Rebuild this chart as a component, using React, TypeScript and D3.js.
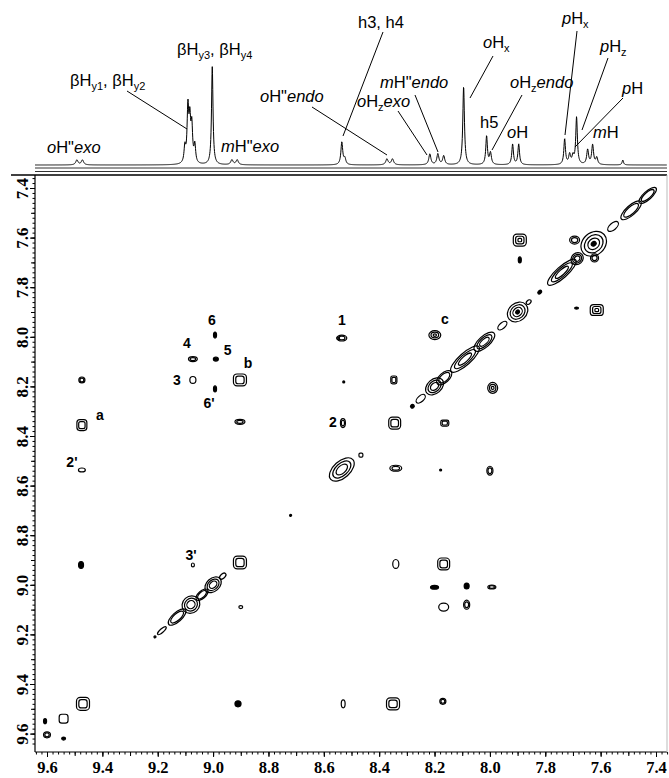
import React, { useEffect, useRef } from 'react';
import * as d3 from 'd3';

// 1D proton trace drawn on top: line positions (ppm), relative heights, half-widths (ppm)
const linePpm = [9.492, 9.472, 9.102, 9.091, 9.084, 9.077, 9.066, 9.003, 8.932, 8.913, 8.535, 8.524, 8.372, 8.352, 8.217, 8.188, 8.167, 8.095, 8.012, 7.998, 7.918, 7.896, 7.73, 7.712, 7.7, 7.687, 7.647, 7.629, 7.614, 7.52];
const lineHeight = [5, 5, 16, 55, 40, 36, 18, 100, 5, 5, 23, 6, 6, 6, 11, 11, 9, 80, 29, 12, 21, 21, 26, 10, 8, 48, 15, 20, 7, 5];
const lineHalfWidth = [0.005, 0.005, 0.0035, 0.0035, 0.0035, 0.0035, 0.0035, 0.0032, 0.005, 0.005, 0.004, 0.004, 0.005, 0.005, 0.0045, 0.0045, 0.0045, 0.0035, 0.0035, 0.004, 0.0035, 0.0035, 0.0035, 0.004, 0.004, 0.0035, 0.004, 0.004, 0.004, 0.003];

// COSY cross peaks: F2 (ppm), F1 (ppm), widths (ppm), contour levels, shape (s square, o oval, d filled)
const crossF2 = [7.892, 7.892, 7.694, 7.622, 7.614, 7.687, 7.99, 8.199, 8.535, 8.528, 8.347, 8.531, 8.344, 8.163, 8.466, 8.993, 9.073, 8.99, 8.903, 9.073, 8.993, 8.903, 9.474, 9.474, 9.474, 8.34, 8.178, 8.0, 9.477, 9.073, 8.9, 8.34, 8.167, 8.2, 8.084, 7.993, 8.167, 8.084, 8.91, 8.53, 8.35, 8.17, 9.607, 9.54, 8.903, 9.47, 9.54, 9.6, 8.548];
const crossF1 = [7.61, 7.69, 7.61, 7.682, 7.892, 7.884, 8.206, 7.993, 8.005, 8.182, 8.174, 8.348, 8.348, 8.348, 8.477, 7.993, 8.09, 8.09, 8.174, 8.174, 8.21, 8.343, 8.174, 8.356, 8.537, 8.53, 8.537, 8.54, 8.92, 8.92, 9.09, 8.916, 8.916, 9.01, 9.005, 9.009, 9.09, 9.08, 9.48, 9.48, 9.48, 9.47, 9.55, 9.62, 8.91, 9.48, 9.54, 9.605, 8.005];
const crossW2 = [0.047, 0.011, 0.036, 0.029, 0.047, 0.014, 0.036, 0.043, 0.036, 0.007, 0.022, 0.018, 0.043, 0.029, 0.014, 0.011, 0.032, 0.018, 0.047, 0.022, 0.011, 0.036, 0.022, 0.036, 0.025, 0.043, 0.007, 0.022, 0.018, 0.011, 0.014, 0.022, 0.043, 0.029, 0.018, 0.029, 0.036, 0.022, 0.022, 0.014, 0.047, 0.022, 0.011, 0.014, 0.047, 0.047, 0.032, 0.025, 0.01];
const crossW1 = [0.048, 0.024, 0.032, 0.032, 0.044, 0.008, 0.044, 0.036, 0.024, 0.008, 0.032, 0.036, 0.048, 0.024, 0.016, 0.024, 0.02, 0.016, 0.048, 0.028, 0.024, 0.02, 0.024, 0.044, 0.016, 0.024, 0.008, 0.036, 0.028, 0.016, 0.012, 0.036, 0.048, 0.016, 0.024, 0.016, 0.032, 0.036, 0.024, 0.032, 0.048, 0.024, 0.02, 0.012, 0.052, 0.052, 0.036, 0.024, 0.01];
const crossLevels = [3, 1, 2, 2, 3, 1, 3, 3, 2, 1, 2, 2, 2, 2, 1, 1, 2, 1, 2, 1, 1, 2, 2, 2, 1, 2, 1, 2, 1, 1, 1, 1, 2, 1, 1, 2, 1, 2, 1, 1, 2, 2, 1, 1, 2, 2, 1, 2, 1];
const crossShape = ['s', 'd', 'o', 'o', 's', 'd', 'o', 'o', 'o', 'd', 's', 'o', 's', 's', 's', 'd', 'o', 'd', 's', 'o', 'd', 'o', 'o', 's', 'o', 'o', 'd', 'o', 'd', 'o', 'o', 'o', 's', 'd', 'd', 'o', 'o', 'o', 'd', 'o', 's', 'o', 'd', 'd', 's', 's', 's', 'o', 'o'];

// diagonal peaks: shift (ppm), length along diagonal (ppm), width across (ppm), contour levels
const diagPpm = [7.43, 7.49, 7.555, 7.625, 7.685, 7.74, 7.82, 7.86, 7.9, 7.955, 8.02, 8.09, 8.165, 8.2, 8.25, 8.28, 8.535, 8.72, 8.965, 9.0, 9.04, 9.08, 9.13, 9.185, 9.21];
const diagSpan = [0.06, 0.07, 0.035, 0.075, 0.035, 0.1, 0.012, 0.015, 0.06, 0.03, 0.07, 0.1, 0.05, 0.055, 0.03, 0.01, 0.08, 0.005, 0.02, 0.05, 0.04, 0.05, 0.06, 0.03, 0.005];
const diagWidth = [0.022, 0.026, 0.018, 0.06, 0.03, 0.03, 0.008, 0.01, 0.048, 0.015, 0.03, 0.032, 0.026, 0.038, 0.016, 0.01, 0.045, 0.005, 0.012, 0.035, 0.02, 0.045, 0.025, 0.01, 0.005];
const diagLevels = [2, 2, 1, 4, 3, 3, 1, 1, 4, 1, 3, 3, 2, 3, 1, 1, 3, 1, 1, 3, 2, 3, 2, 1, 1];

// peak numbering in the 2D map
const markText = ['6', '4', '5', 'b', '3', "6'", '1', 'c', '2', "2'", "3'", 'a'];
const markF2 = [9.004, 9.095, 8.947, 8.874, 9.131, 9.015, 8.535, 8.163, 8.567, 9.51, 9.08, 9.409];
const markF1 = [7.932, 8.025, 8.053, 8.106, 8.174, 8.267, 7.932, 7.928, 8.344, 8.505, 8.88, 8.315];

const tickPpm = [9.6, 9.4, 9.2, 9.0, 8.8, 8.6, 8.4, 8.2, 8.0, 7.8, 7.6, 7.4];

// assignment labels over the 1D trace (i italic, n normal, s subscript)
const annotations = [
  { parts: [['o', 'i'], ['H"', 'n'], ['exo', 'i']], x: 47, y: 153 },
  { parts: [['βH', 'n'], ['y1', 's'], [', βH', 'n'], ['y2', 's']], x: 70, y: 86, line: [127, 91, 187, 129] },
  { parts: [['βH', 'n'], ['y3', 's'], [', βH', 'n'], ['y4', 's']], x: 177, y: 55 },
  { parts: [['m', 'i'], ['H"', 'n'], ['exo', 'i']], x: 221, y: 152 },
  { parts: [['o', 'i'], ['H"', 'n'], ['endo', 'i']], x: 260, y: 102, line: [312, 107, 387, 155] },
  { parts: [['h3, h4', 'n']], x: 358, y: 28, line: [383, 32, 343, 136] },
  { parts: [['o', 'i'], ['H', 'n'], ['z', 's'], ['exo', 'i']], x: 357, y: 107, line: [398, 111, 427, 155] },
  { parts: [['m', 'i'], ['H"', 'n'], ['endo', 'i']], x: 380, y: 88, line: [415, 95, 438, 152] },
  { parts: [['o', 'i'], ['H', 'n'], ['x', 's']], x: 483, y: 48, line: [493, 56, 470, 98] },
  { parts: [['o', 'i'], ['H', 'n'], ['z', 's'], ['endo', 'i']], x: 510, y: 88, line: [522, 95, 492, 150] },
  { parts: [['h5', 'n']], x: 480, y: 128 },
  { parts: [['o', 'i'], ['H', 'n']], x: 507, y: 138 },
  { parts: [['p', 'i'], ['H', 'n'], ['x', 's']], x: 562, y: 24, line: [577, 31, 565, 135] },
  { parts: [['p', 'i'], ['H', 'n'], ['z', 's']], x: 600, y: 52, line: [608, 58, 582, 130] },
  { parts: [['p', 'i'], ['H', 'n']], x: 622, y: 94, line: [623, 98, 575, 147] },
  { parts: [['m', 'i'], ['H', 'n']], x: 593, y: 138 },
];

function App() {
  const svgRef = useRef<SVGSVGElement>(null);

  useEffect(() => {
    const svg = d3.select(svgRef.current);
    svg.selectAll('*').remove();

    const left = 35, right = 667, top = 175, bottom = 752;
    const x = d3.scaleLinear().domain([9.6, 7.4]).range([47, 656]);
    const y = d3.scaleLinear().domain([7.4, 9.6]).range([188, 733.6]);
    const yTrace = d3.scaleLinear().domain([0, 100]).range([165, 67]);
    const sans = '"Liberation Sans", Arial, sans-serif';

    // 1D trace
    const grid = d3.range(left, right, 0.25).map(px => x.invert(px));
    const intensity = (d: number) =>
      d3.sum(linePpm, (p, i) => lineHeight[i] / (1 + ((d - p) / lineHalfWidth[i]) ** 2));
    const trace = d3.line<number>().x(d => x(d)).y(d => yTrace(intensity(d)));
    svg.append('path')
      .attr('d', trace(grid))
      .attr('fill', 'none')
      .attr('stroke', '#000')
      .attr('stroke-width', 1);

    // double rule under the trace + plot frame
    [168, 171.5].forEach(yy => {
      svg.append('line').attr('x1', left).attr('x2', right).attr('y1', yy).attr('y2', yy)
        .attr('stroke', '#333').attr('stroke-width', 1);
    });
    svg.append('line').attr('x1', 11).attr('x2', right).attr('y1', top).attr('y2', top)
      .attr('stroke', '#000').attr('stroke-width', 1.6);
    svg.append('line').attr('x1', left).attr('x2', left).attr('y1', top).attr('y2', bottom)
      .attr('stroke', '#000').attr('stroke-width', 1.2);
    svg.append('line').attr('x1', left).attr('x2', right).attr('y1', bottom).attr('y2', bottom)
      .attr('stroke', '#000').attr('stroke-width', 1.2);
    svg.append('line').attr('x1', right).attr('x2', right).attr('y1', top).attr('y2', bottom)
      .attr('stroke', '#bbb').attr('stroke-width', 1);

    // annotations
    annotations.forEach(a => {
      if (a.line) {
        const [x1, y1, x2, y2] = a.line;
        svg.append('line').attr('x1', x1).attr('y1', y1).attr('x2', x2).attr('y2', y2)
          .attr('stroke', '#000').attr('stroke-width', 1);
      }
      const t = svg.append('text').attr('x', a.x).attr('y', a.y)
        .attr('font-family', sans).attr('font-size', 16.5).attr('fill', '#000');
      let sub = false;
      a.parts.forEach(([s, k]) => {
        const ts = t.append('tspan').text(s);
        if (k === 's') {
          ts.attr('font-size', 11);
          if (!sub) ts.attr('dy', 4);
          sub = true;
        } else {
          if (sub) ts.attr('dy', -4);
          sub = false;
          if (k === 'i') ts.attr('font-style', 'italic');
        }
      });
    });

    // axes
    const minor = d3.range(368, 483).map(i => i / 50);
    const tenth = d3.range(74, 97).map(i => i / 10);
    const styleAxis = (g: any) => {
      g.select('.domain').remove();
      g.selectAll('line').attr('stroke', '#000');
    };

    const gxMinor = svg.append('g').attr('transform', `translate(0,${bottom})`);
    gxMinor.call(d3.axisBottom(x).tickValues(minor).tickSize(2.5).tickFormat(() => ''));
    styleAxis(gxMinor);
    const gxTenth = svg.append('g').attr('transform', `translate(0,${bottom})`);
    gxTenth.call(d3.axisBottom(x).tickValues(tenth).tickSize(4).tickFormat(() => ''));
    styleAxis(gxTenth);
    const gx = svg.append('g').attr('transform', `translate(0,${bottom})`);
    gx.call(d3.axisBottom(x).tickValues(tickPpm).tickSize(5).tickFormat(d3.format('.1f')));
    styleAxis(gx);
    gx.selectAll('text')
      .attr('y', 9)
      .attr('font-family', '"Liberation Serif", "Times New Roman", serif')
      .attr('font-weight', 'bold')
      .attr('font-size', 16.5);

    const gyMinor = svg.append('g').attr('transform', `translate(${left},0)`);
    gyMinor.call(d3.axisLeft(y).tickValues(minor).tickSize(2.5).tickFormat(() => ''));
    styleAxis(gyMinor);
    const gyTenth = svg.append('g').attr('transform', `translate(${left},0)`);
    gyTenth.call(d3.axisLeft(y).tickValues(tenth).tickSize(4).tickFormat(() => ''));
    styleAxis(gyTenth);
    const gy = svg.append('g').attr('transform', `translate(${left},0)`);
    gy.call(d3.axisLeft(y).tickValues(tickPpm).tickSize(5).tickFormat(d3.format('.1f')));
    styleAxis(gy);
    gy.selectAll('text')
      .attr('transform', 'rotate(-90)')
      .attr('x', 0)
      .attr('y', -7)
      .attr('dy', 0)
      .attr('text-anchor', 'middle')
      .attr('font-family', '"Liberation Serif", "Times New Roman", serif')
      .attr('font-weight', 'bold')
      .attr('font-size', 17);

    // contour map
    const map = svg.append('g').attr('fill', 'none').attr('stroke', '#000').attr('stroke-width', 1.2);

    crossF2.forEach((f2, i) => {
      const f1 = crossF1[i];
      const cx = x(f2), cy = y(f1);
      const w = Math.abs(x(f2 + crossW2[i]) - cx);
      const h = Math.abs(y(f1 + crossW1[i]) - cy);
      if (crossShape[i] === 'd') {
        map.append('ellipse').attr('cx', cx).attr('cy', cy)
          .attr('rx', Math.max(w / 2, 1)).attr('ry', Math.max(h / 2, 1))
          .attr('fill', '#000');
        return;
      }
      d3.range(crossLevels[i]).forEach(k => {
        const f = 1 - k * 0.36;
        const ww = w * f, hh = h * f;
        if (crossShape[i] === 's') {
          map.append('rect')
            .attr('x', cx - ww / 2).attr('y', cy - hh / 2)
            .attr('width', ww).attr('height', hh)
            .attr('rx', Math.min(ww, hh) * 0.3);
        } else {
          map.append('ellipse').attr('cx', cx).attr('cy', cy)
            .attr('rx', ww / 2).attr('ry', hh / 2);
        }
      });
    });

    const dx = x(9.6) - x(7.4), dy = y(9.6) - y(7.4);
    const angle = (Math.atan2(dy, dx) * 180) / Math.PI;
    const pxPerPpm = Math.hypot(dx, dy) / 2.2;
    diagPpm.forEach((d, i) => {
      const g = map.append('g').attr('transform', `translate(${x(d)},${y(d)}) rotate(${angle})`);
      const rx = (diagSpan[i] / 2) * pxPerPpm;
      const ry = (diagWidth[i] / 2) * pxPerPpm;
      if (diagSpan[i] < 0.015) {
        g.append('ellipse').attr('rx', Math.max(rx, 1)).attr('ry', Math.max(ry, 1)).attr('fill', '#000');
        return;
      }
      d3.range(diagLevels[i]).forEach(k => {
        const f = 1 - k * 0.27;
        g.append('ellipse').attr('rx', rx * f).attr('ry', ry * f)
          .attr('fill', k === diagLevels[i] - 1 && diagLevels[i] >= 4 ? '#000' : 'none');
      });
    });

    // peak marks
    svg.append('g')
      .selectAll('text')
      .data(markText)
      .enter()
      .append('text')
      .attr('x', (_, i) => x(markF2[i]))
      .attr('y', (_, i) => y(markF1[i]))
      .attr('dy', '0.35em')
      .attr('text-anchor', 'middle')
      .attr('font-family', sans)
      .attr('font-weight', 'bold')
      .attr('font-size', 14)
      .text(d => d);
  }, []);

  return (
    <svg
      ref={svgRef}
      width={669}
      height={778}
      style={{ position: 'absolute', left: 0, top: 0, background: '#fff' }}
    />
  );
}

export default App;
